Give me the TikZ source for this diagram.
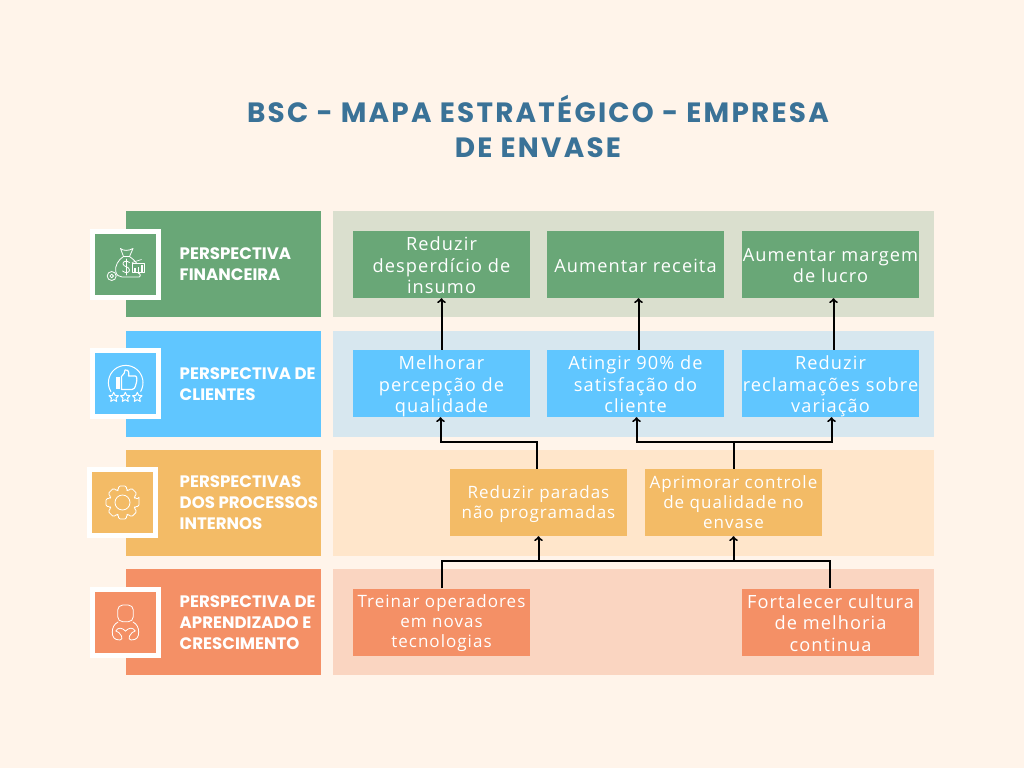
\documentclass[tikz,border=0pt]{standalone}
\usepackage{fontspec}
\usetikzlibrary{positioning}
\newfontfamily\bodyfont[LetterSpace=6]{Open Sans}
\newfontfamily\labelfont[BoldFont=Poppins Bold]{Poppins}
\newfontfamily\titlefont[BoldFont=Poppins Bold,LetterSpace=8]{Poppins}

\definecolor{pagebg}{HTML}{FFF4EA}
\definecolor{titleblue}{HTML}{3A7297}
\definecolor{fingreen}{HTML}{69A777}
\definecolor{finband}{HTML}{DADFCE}
\definecolor{cliblue}{HTML}{60C6FF}
\definecolor{cliband}{HTML}{D7E7EF}
\definecolor{procgold}{HTML}{F3BB66}
\definecolor{procband}{HTML}{FFE6CB}
\definecolor{growred}{HTML}{F49066}
\definecolor{growband}{HTML}{FAD5C1}

\newcommand{\goalup}{\rule{0pt}{21.5pt}}
\newcommand{\smallup}{\rule{0pt}{17pt}}

\tikzset{
    band/.style={inner sep=0pt, minimum height=106pt, minimum width=601pt},
    head/.style={inner sep=0pt, minimum height=106pt, minimum width=195pt},
    iconbox/.style={draw=white, line width=5pt, inner sep=0pt, minimum size=66pt},
    goal/.style={inner xsep=0pt, inner ysep=-4pt, minimum width=177pt, minimum height=67pt, text=white, align=center,
        font=\bodyfont\fontsize{18.2}{21.5}\selectfont, execute at end node=\strut},
    smallgoal/.style={goal, font=\bodyfont\fontsize{17}{20}\selectfont},
    headtext/.style={inner sep=0pt, anchor=west, text=white, align=left,
        font=\labelfont\bfseries\fontsize{16.6}{21}\selectfont},
    link/.style={line width=2pt, black},
    icon/.style={draw=white, line width=0.8pt, line join=round, line cap=round},
}

\begin{document}
\begin{tikzpicture}[x=1pt,y=-1pt]

    % Page
    \fill[pagebg] (0,0) rectangle (1024,768);
    \useasboundingbox (0,0) rectangle (1024,768);

    % Title
    \node[text=titleblue, align=center, inner sep=0pt, font=\titlefont\bfseries\fontsize{27.9}{35}\selectfont] (title) at (538,126.5)
        {BSC - MAPA ESTRATÉGICO - EMPRESA\\DE ENVASE};

    % Bands on the right
    \node[band, fill=finband] (finBand) at (633.5,264) {};
    \node[band, fill=cliband] (cliBand) at (633.5,383.5) {};
    \node[band, fill=procband] (procBand) at (633.5,503) {};
    \node[band, fill=growband] (growBand) at (633.5,622) {};

    % Headers on the left
    \node[head, fill=fingreen] (finHead) at (223,264) {};
    \node[head, fill=cliblue] (cliHead) at (223,383.5) {};
    \node[head, fill=procgold] (procHead) at (223,503) {};
    \node[head, fill=growred] (growHead) at (223,622) {};

    \node[headtext] (finText) at (179.5,264) {PERSPECTIVA\\FINANCEIRA};
    \node[headtext] (cliText) at (179.5,384.5) {PERSPECTIVA DE\\CLIENTES};
    \node[headtext] (procText) at (179.5,503) {PERSPECTIVAS\\DOS PROCESSOS\\INTERNOS};
    \node[headtext] (growText) at (179.5,623) {PERSPECTIVA DE\\APRENDIZADO E\\CRESCIMENTO};

    % Icon squares
    \node[iconbox, fill=fingreen] (finIcon) at (125.5,264.5) {};
    \node[iconbox, fill=cliblue] (cliIcon) at (125.5,383.5) {};
    \node[iconbox, fill=procgold] (procIcon) at (122.5,502.5) {};
    \node[iconbox, fill=growred] (growIcon) at (125.5,622.5) {};

    % Money bag
    \draw[icon] (120.5,248.5) .. controls (123,251) and (129,251) .. (133,248.5) -- (129.5,256.5) -- (123.5,256.5) -- cycle; % Tie
    \draw[icon] (123.5,256.5) .. controls (118,260) and (115,266) .. (115.7,271) .. controls (116,275) and (119,277) .. (122,277) -- (139,277) .. controls (141,277) and (140.5,273) .. (138,273);
    \draw[icon] (129.5,256.5) .. controls (133,259) and (135,261) .. (136.5,263);
    \draw[icon] (129.5,262.5) .. controls (126.5,260) and (122.5,261.5) .. (123,264) .. controls (123.5,267) and (129.5,266.5) .. (129.5,270) .. controls (129.5,273) and (125.5,273.5) .. (122.5,271);
    \draw[icon] (126,259) -- (126,275);
    \draw[icon, line width=0.6pt, fill=fingreen] (132.3,263.3) rectangle (144,272.7); % Chart
    \draw[icon, line width=1.5pt, line cap=butt] (135,272) -- (135,268) (138.5,272) -- (138.5,266.5) (142,272) -- (142,264.5);
    \draw[icon, line width=0.6pt] (132,262.5) -- (141.5,259.5);
    \draw[icon, fill=fingreen] (111.7,276) circle (4.5);
    \draw[icon] (111.7,276) circle (1.8);

    % Thumb and stars
    \begin{scope}[shift={(125.7,382.7)}]
        \draw[icon, line width=1pt] (149:17.3) \foreach \a in {160,170,...,390}{ -- (\a:17.3) };
    \end{scope}
    \fill[white] (116,376.7) rectangle (120,389.3); % Cuff
    \draw[icon, line width=1.2pt] (121.5,376.5) .. controls (124,374.5) and (125,372) .. (125,370) .. controls (128.5,369.5) and (129.5,372.5) .. (128.5,376) -- (135.5,376) .. controls (137.5,376.5) and (137,381) .. (136,384) .. controls (135,388) and (134,389.5) .. (132,389.5) -- (121.5,389.5) -- cycle;
    \foreach \x in {113.7,125.3,137.3}{
        \begin{scope}[shift={(\x,397.3)}]
            \draw[icon, line width=1pt, fill=cliblue] (-90:5) \foreach \a in {-90,-18,54,126,198}{ -- (\a:5) -- (\a+36:2.4)} -- cycle;
        \end{scope}
    }

    % Gear
    \begin{scope}[shift={(122.5,502.5)}]
        \draw[icon, rounded corners=1.5pt] (-13:17)
            \foreach \a in {0,45,...,315}{ -- (\a+13:17) -- (\a+19:13) -- (\a+26:13) -- (\a+32:17) } -- cycle;
        \draw[icon] (0,0) circle (7.5);
    \end{scope}

    % Person with open book
    \draw[icon, rounded corners=5pt] (117.7,605) rectangle (133.3,621.7);
    \draw[icon] (118,622) .. controls (114,624) and (112.3,628) .. (112.3,632) .. controls (112.3,637) and (114,640) .. (120,640) .. controls (122,640) and (122.5,638) .. (121.5,636) .. controls (120,633) and (118,631.5) .. (115.8,631) .. controls (118,627) and (122,627.5) .. (125.5,631);
    \draw[icon] (133,622) .. controls (137,624) and (138.7,628) .. (138.7,632) .. controls (138.7,637) and (137,640) .. (131,640) .. controls (129,640) and (128.5,638) .. (129.5,636) .. controls (131,633) and (133,631.5) .. (135.2,631) .. controls (133,627) and (129,627.5) .. (125.5,631);

    % Goals
    \node[goal, fill=fingreen] (insumo) at (441.5,264.5) {\goalup Reduzir\\desperdício de\\insumo};
    \node[goal, fill=fingreen] (receita) at (635.5,264.5) {\goalup Aumentar receita};
    \node[goal, fill=fingreen] (margem) at (830.5,264.5) {\goalup Aumentar margem\\de lucro};

    \node[goal, fill=cliblue] (percepcao) at (441.5,383.5) {\goalup Melhorar\\percepção de\\qualidade};
    \node[goal, fill=cliblue] (satisfacao) at (635.5,383.5) {\goalup Atingir 90\% de\\satisfação do\\cliente};
    \node[goal, fill=cliblue] (reclamacoes) at (830.5,383.5) {\goalup Reduzir\\reclamações sobre\\variação};

    \node[smallgoal, fill=procgold] (paradas) at (538.5,502.5) {\smallup Reduzir paradas\\não programadas};
    \node[smallgoal, fill=procgold] (controle) at (733.5,502.5) {\smallup Aprimorar controle\\de qualidade no\\envase};

    \node[smallgoal, fill=growred] (treinar) at (441.5,622) {\smallup Treinar operadores\\em novas\\tecnologias};
    \node[goal, fill=growred] (cultura) at (830.5,622) {\goalup Fortalecer cultura\\de melhoria\\continua};

    % Bus lines
    \coordinate (busTop) at (0,442);
    \coordinate (busLow) at (0,561);

    % Clients to finance
    \draw[link, ->] (percepcao.north) -- (insumo.south);
    \draw[link, ->] ([xshift=3pt]satisfacao.north) -- ([xshift=3pt]receita.south);
    \draw[link, ->] ([xshift=3pt]reclamacoes.north) -- ([xshift=3pt]margem.south);

    % Processes to clients
    \draw[link, ->] ([xshift=-1.5pt]paradas.north) -- ([xshift=-1.5pt]paradas.north |- busTop) -- ([xshift=-1pt]percepcao.south |- busTop) -- ([xshift=-1pt]percepcao.south);
    \draw[link, ->] (controle.north) -- (controle.north |- busTop) -- ([xshift=1pt]satisfacao.south |- busTop) -- ([xshift=1pt]satisfacao.south);
    \draw[link, ->] (controle.north |- busTop) -- ([xshift=1pt]reclamacoes.south |- busTop) -- ([xshift=1pt]reclamacoes.south);

    % Learning to processes
    \draw[link] (treinar.north) -- (treinar.north |- busLow) -- ([xshift=-1pt]cultura.north |- busLow) -- ([xshift=-1pt]cultura.north);
    \draw[link, ->] (paradas.south |- busLow) -- (paradas.south);
    \draw[link, ->] (controle.south |- busLow) -- (controle.south);

\end{tikzpicture}
\end{document}
